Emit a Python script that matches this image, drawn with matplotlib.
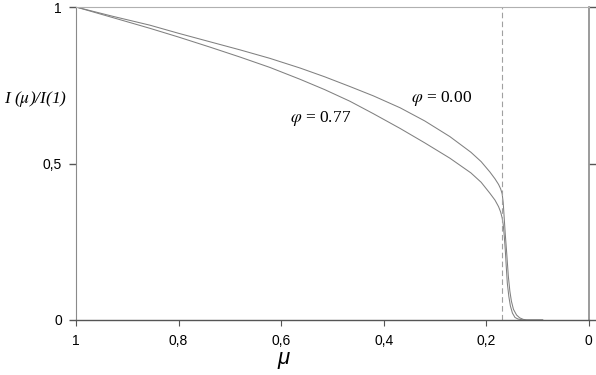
import matplotlib

matplotlib.use("Agg")
import matplotlib.pyplot as plt

plt.rcParams["mathtext.fontset"] = "stix"

# upper curve, phi = 0.00
MU_A = [1.0, 0.93, 0.856, 0.80, 0.739, 0.68, 0.622, 0.563, 0.515, 0.466, 0.42,
        0.368, 0.32, 0.271, 0.23, 0.21, 0.193, 0.183, 0.176, 0.172, 0.169,
        0.167, 0.165, 0.163, 0.160, 0.157, 0.154, 0.151, 0.147, 0.141, 0.135,
        0.128, 0.121, 0.09]
I_A = [1.0, 0.971, 0.942, 0.916, 0.889, 0.863, 0.836, 0.805, 0.777, 0.746, 0.716,
       0.678, 0.636, 0.586, 0.536, 0.506, 0.473, 0.451, 0.433, 0.419, 0.403,
       0.375, 0.325, 0.275, 0.210, 0.140, 0.092, 0.060, 0.034, 0.016, 0.007,
       0.002, 0.0, 0.0]

# lower curve, phi = 0.77
MU_B = [1.0, 0.93, 0.856, 0.80, 0.739, 0.68, 0.622, 0.563, 0.515, 0.466, 0.42,
        0.368, 0.32, 0.271, 0.23, 0.21, 0.193, 0.183, 0.176, 0.172, 0.169,
        0.167, 0.165, 0.163, 0.161, 0.159, 0.156, 0.153, 0.149, 0.144, 0.138,
        0.131, 0.124, 0.09]
I_B = [1.0, 0.967, 0.932, 0.904, 0.872, 0.840, 0.807, 0.769, 0.736, 0.699, 0.659,
       0.612, 0.566, 0.517, 0.470, 0.440, 0.405, 0.383, 0.362, 0.345, 0.326,
       0.305, 0.270, 0.225, 0.170, 0.118, 0.075, 0.045, 0.022, 0.008, 0.003,
       0.001, 0.0, 0.0]

MU_CUT = 0.17
X_TICKS = [1.0, 0.8, 0.6, 0.4, 0.2, 0.0]
X_LABELS = ["1", "0,8", "0,6", "0,4", "0,2", "0"]
Y_TICKS = [0.0, 0.5, 1.0]
Y_LABELS = ["0", "0,5", "1"]

fig = plt.figure(figsize=(5.96, 3.75), dpi=100)
ax = fig.add_axes([0.1275, 0.1467, 0.8605, 0.8346])

line_kw = dict(color="#808080", linewidth=0.75)
ax.plot(MU_A, I_A, **line_kw)
ax.plot(MU_B, I_B, **line_kw)
ax.axvline(MU_CUT, color="#a0a0a0", linewidth=0.8, linestyle=(0, (5, 3)))

ax.set_xlim(1.0, 0.0)
ax.set_ylim(0.0, 1.0)
ax.set_xticks(X_TICKS, X_LABELS)
ax.set_yticks(Y_TICKS, Y_LABELS)
for lab in ax.get_xticklabels() + ax.get_yticklabels():
    lab.set_fontfamily("Liberation Sans")
    lab.set_fontsize(10)
ax.tick_params(axis="x", direction="out", length=4, width=0.8, color="#555555", pad=6)
ax.tick_params(axis="y", direction="out", length=5, width=1.0, color="#555555",
               right=True, pad=5)

ax.spines["left"].set_color("#8a8a8a")
ax.spines["right"].set_color("#8a8a8a")
ax.spines["right"].set_linewidth(1.2)
ax.spines["top"].set_color("#b0b0b0")
ax.spines["bottom"].set_color("#555555")
ax.spines["bottom"].set_linewidth(1.0)

ax.text(0.287, 0.709, r"$\varphi$ = 0.00", family="Liberation Serif", fontsize=12.5,
        ha="center", va="center")
ax.text(0.524, 0.645, r"$\varphi$ = 0.77", family="Liberation Serif", fontsize=12.5,
        ha="center", va="center")

fig.text(0.06, 0.735, r"I ($\mu$)/I(1)", family="Liberation Serif", style="italic",
         fontsize=12.5, ha="center", va="center")
fig.text(0.475, 0.045, "\u03bc", family="Liberation Sans", style="italic",
         fontsize=16, ha="center", va="center")

fig.savefig("out.png", dpi=100)
